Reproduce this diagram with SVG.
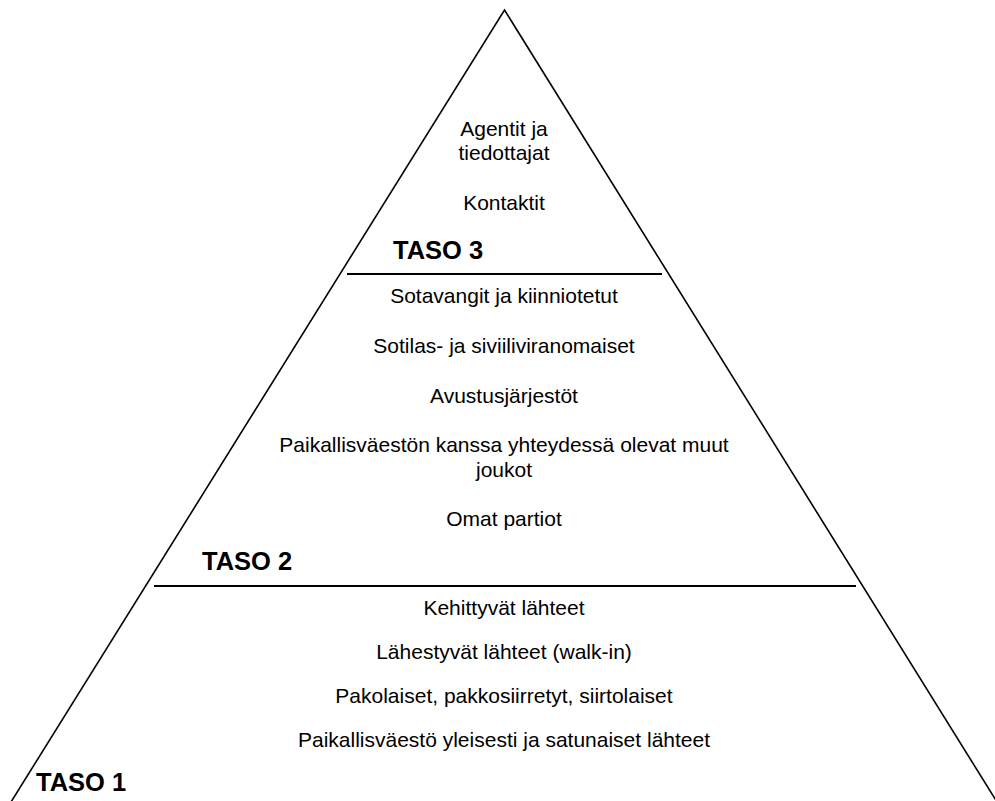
<svg xmlns="http://www.w3.org/2000/svg" width="995" height="801" viewBox="0 0 995 801">
<style>
.edge{stroke:#000;stroke-width:1.6;fill:none}
.sep{stroke:#000;stroke-width:1.8}
.t{font-family:"Liberation Sans",Arial,sans-serif;font-size:21px;fill:#000;text-anchor:middle}
.lvl{font-family:"Liberation Sans",Arial,sans-serif;font-size:25.5px;font-weight:bold;fill:#000}
</style>
<rect width="995" height="801" fill="#fff"/>
<g id="connectors">
<polyline class="edge" points="11,802 504.5,10 997,802"/>
<line class="sep" x1="347" y1="274" x2="662" y2="274"/>
<line class="sep" x1="154" y1="586" x2="856" y2="586"/>
</g>
<g id="taso3">
<text class="t" x="504" y="135.5">Agentit ja</text>
<text class="t" x="504" y="160">tiedottajat</text>
<text class="t" x="504" y="209.5">Kontaktit</text>
<text class="lvl" x="393" y="259">TASO 3</text>
</g>
<g id="taso2">
<text class="t" x="504" y="303">Sotavangit ja kiinniotetut</text>
<text class="t" x="504" y="353">Sotilas- ja siviiliviranomaiset</text>
<text class="t" x="504" y="403">Avustusjärjestöt</text>
<text class="t" x="504" y="452">Paikallisväestön kanssa yhteydessä olevat muut</text>
<text class="t" x="504" y="476.5">joukot</text>
<text class="t" x="504" y="526">Omat partiot</text>
<text class="lvl" x="202" y="570">TASO 2</text>
</g>
<g id="taso1">
<text class="t" x="504" y="615">Kehittyvät lähteet</text>
<text class="t" x="504" y="659">Lähestyvät lähteet (walk-in)</text>
<text class="t" x="504" y="703">Pakolaiset, pakkosiirretyt, siirtolaiset</text>
<text class="t" x="504" y="747">Paikallisväestö yleisesti ja satunaiset lähteet</text>
<text class="lvl" x="36" y="791">TASO 1</text>
</g>
</svg>
